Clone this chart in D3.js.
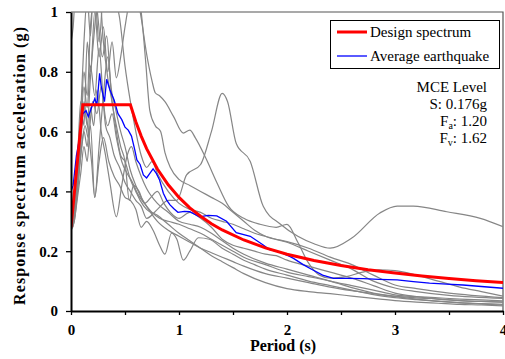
<html lang="en">
<head>
    <meta charset="UTF-8">
    <title>Response spectrum</title>
    <script src="https://cdn.jsdelivr.net/npm/d3@7"></script>
    <style>
        body{
            margin:0;
            background:#fff;
        }
        .axis text{
            font-family:"Liberation Serif","Times New Roman",serif;
            font-weight:bold;
            font-size:15px;
            fill:#000;
        }
        .axis path, .axis line{
            stroke:#000;
        }
        .axis path{
            stroke-width:2px;
        }
        .title{
            font-family:"Liberation Serif","Times New Roman",serif;
            font-weight:bold;
            font-size:16px;
        }
        .legend{
            font-family:"Liberation Serif","Times New Roman",serif;
            font-size:15px;
        }
        .gray{
            fill:none;
            stroke:#868686;
            stroke-width:1.2px;
        }
        .avg{
            fill:none;
            stroke:#0000ff;
            stroke-width:1.3px;
        }
        .design{
            fill:none;
            stroke:#ff0000;
            stroke-width:3px;
        }
    </style>
</head>
<body>
    <svg id="svg"></svg>
    <script>
        var WIDTH = 505;
        var HEIGHT = 359;
        var LEFT = 71, TOP = 12, RIGHT = 503, BOTTOM = 311;

        // design spectrum (period s, Sa g)
        var designT  = [0, 0.11, 0.55, 0.6, 0.65, 0.7, 0.8, 0.9, 1.0, 1.1, 1.2, 1.3, 1.4, 1.6, 1.8, 2.0, 2.25, 2.5, 2.75, 3.0, 3.25, 3.5, 3.75, 4.0];
        var designSa = [0.28, 0.69, 0.69, 0.633, 0.585, 0.543, 0.475, 0.422, 0.38, 0.345, 0.317, 0.292, 0.271, 0.2375, 0.211, 0.19, 0.169, 0.152, 0.138, 0.127, 0.117, 0.109, 0.101, 0.095];

        // average of the records
        var avgT  = [0, 0.02, 0.05, 0.08, 0.11, 0.14, 0.16, 0.19, 0.22, 0.24, 0.265, 0.28, 0.31, 0.33, 0.36, 0.4, 0.435, 0.47, 0.5, 0.53, 0.56, 0.59, 0.61, 0.64, 0.67, 0.7, 0.73, 0.76, 0.79, 0.82, 0.855, 0.886, 0.917, 0.95, 0.99, 1.05, 1.1, 1.19, 1.27, 1.35, 1.44, 1.53, 1.66, 1.78, 1.84, 1.935, 2.03, 2.06, 2.15, 2.24, 2.33, 2.43, 2.55, 2.71, 2.85, 3.02, 3.17, 3.32, 3.48, 3.63, 3.8, 4.0];
        var avgSa = [0.4, 0.42, 0.52, 0.58, 0.66, 0.67, 0.65, 0.68, 0.71, 0.69, 0.795, 0.75, 0.7, 0.775, 0.74, 0.705, 0.66, 0.64, 0.615, 0.605, 0.585, 0.54, 0.505, 0.49, 0.455, 0.445, 0.46, 0.475, 0.46, 0.438, 0.394, 0.371, 0.355, 0.343, 0.33, 0.333, 0.332, 0.315, 0.32, 0.318, 0.3, 0.262, 0.25, 0.221, 0.205, 0.197, 0.182, 0.176, 0.155, 0.137, 0.12, 0.109, 0.109, 0.108, 0.106, 0.104, 0.098, 0.093, 0.09, 0.087, 0.082, 0.076];

        // individual earthquake records [period, Sa]
        var rec1 = [[0,0.28],[0.03,0.33],[0.06,0.42],[0.1,0.55],[0.13,0.62],[0.16,0.58],[0.2,0.7],[0.24,0.66],[0.28,0.75],[0.32,0.62],[0.36,0.58],[0.4,0.52],[0.45,0.48],[0.5,0.43],[0.55,0.4],[0.6,0.37],[0.65,0.35],[0.7,0.31],[0.8,0.34],[0.9,0.37],[0.98,0.37],[1.07,0.455],[1.2,0.49],[1.3,0.6],[1.4,0.728],[1.45,0.7],[1.53,0.56],[1.66,0.5],[1.78,0.35],[1.94,0.29],[2.1,0.25],[2.25,0.225],[2.4,0.21],[2.6,0.244],[2.86,0.328],[3.02,0.351],[3.17,0.351],[3.48,0.332],[3.79,0.31],[4.0,0.282]];
        var rec2 = [[0,0.29],[0.03,0.34],[0.06,0.47],[0.09,0.62],[0.12,0.8],[0.15,0.72],[0.18,0.95],[0.22,1.05],[0.26,0.9],[0.3,1.08],[0.35,1.15],[0.4,1.02],[0.45,1.1],[0.5,1.2],[0.55,1.12],[0.6,1.08],[0.65,0.98],[0.7,0.86],[0.75,0.77],[0.78,0.73],[0.82,0.72],[0.87,0.7],[0.95,0.65],[1.04,0.595],[1.1,0.605],[1.15,0.58],[1.25,0.51],[1.35,0.43],[1.46,0.35],[1.6,0.31],[1.75,0.29],[1.9,0.28],[2.0,0.29],[2.1,0.23],[2.2,0.16],[2.3,0.12],[2.4,0.11],[2.55,0.115],[2.7,0.13],[2.85,0.138],[3.0,0.135],[3.2,0.12],[3.4,0.1],[3.6,0.08],[3.8,0.065],[4.0,0.05]];
        var rec3 = [[0,0.3],[0.03,0.36],[0.06,0.5],[0.09,0.7],[0.12,0.62],[0.15,0.9],[0.18,0.8],[0.22,1.0],[0.26,0.85],[0.3,0.95],[0.34,0.8],[0.38,0.9],[0.42,0.78],[0.46,0.85],[0.5,0.95],[0.55,1.05],[0.6,1.08],[0.65,1.0],[0.69,0.84],[0.73,0.67],[0.78,0.62],[0.83,0.6],[0.87,0.53],[0.92,0.48],[1.0,0.44],[1.1,0.42],[1.2,0.4],[1.3,0.38],[1.4,0.36],[1.5,0.33],[1.6,0.3],[1.7,0.27],[1.8,0.25],[2.0,0.23],[2.2,0.2],[2.4,0.17],[2.6,0.14],[2.8,0.1],[3.0,0.077],[3.2,0.065],[3.5,0.052],[4.0,0.042]];
        var rec4 = [[0,0.28],[0.03,0.31],[0.06,0.4],[0.09,0.52],[0.12,0.6],[0.15,0.55],[0.18,0.68],[0.21,0.62],[0.24,0.74],[0.28,0.6],[0.32,0.52],[0.36,0.43],[0.42,0.315],[0.47,0.42],[0.52,0.52],[0.56,0.55],[0.6,0.5],[0.65,0.45],[0.7,0.41],[0.8,0.36],[0.9,0.33],[1.0,0.3],[1.1,0.29],[1.2,0.28],[1.3,0.26],[1.4,0.235],[1.5,0.21],[1.6,0.19],[1.8,0.16],[2.0,0.14],[2.2,0.12],[2.4,0.1],[2.6,0.085],[2.8,0.07],[3.0,0.054],[3.2,0.048],[3.4,0.044],[3.6,0.04],[3.8,0.037],[4.0,0.034]];
        var rec5 = [[0,0.27],[0.03,0.3],[0.06,0.38],[0.09,0.46],[0.12,0.55],[0.15,0.5],[0.18,0.62],[0.22,0.38],[0.26,0.5],[0.3,0.58],[0.35,0.5],[0.4,0.45],[0.45,0.42],[0.5,0.38],[0.55,0.37],[0.6,0.34],[0.65,0.28],[0.7,0.3],[0.76,0.27],[0.82,0.22],[0.87,0.19],[0.93,0.26],[0.98,0.24],[1.04,0.17],[1.1,0.2],[1.18,0.245],[1.28,0.24],[1.4,0.21],[1.5,0.19],[1.6,0.17],[1.7,0.155],[1.8,0.14],[2.0,0.12],[2.2,0.1],[2.4,0.085],[2.6,0.07],[2.8,0.055],[3.0,0.045],[3.2,0.038],[3.4,0.032],[3.6,0.027],[3.8,0.023],[4.0,0.02]];
        var rec6 = [[0,0.9],[0.02,0.95],[0.05,1.15],[0.1,1.3],[0.15,1.2],[0.2,1.4],[0.25,1.3],[0.3,1.2],[0.35,1.1],[0.4,1.05],[0.45,0.98],[0.5,0.82],[0.55,0.7],[0.6,0.6],[0.65,0.52],[0.7,0.48],[0.75,0.5],[0.8,0.46],[0.9,0.4],[1.0,0.36],[1.1,0.34],[1.2,0.33],[1.3,0.31],[1.4,0.3],[1.5,0.29],[1.6,0.275],[1.7,0.26],[1.8,0.25],[1.9,0.24],[2.0,0.232],[2.2,0.21],[2.4,0.18],[2.6,0.155],[2.8,0.12],[3.0,0.087],[3.2,0.075],[3.5,0.06],[4.0,0.045]];
        var rec7 = [[0,0.28],[0.03,0.32],[0.06,0.44],[0.09,0.6],[0.12,0.75],[0.15,0.68],[0.18,0.82],[0.22,0.72],[0.26,0.88],[0.3,0.7],[0.34,0.62],[0.38,0.66],[0.42,0.58],[0.47,0.5],[0.52,0.46],[0.57,0.43],[0.62,0.39],[0.68,0.36],[0.75,0.33],[0.82,0.31],[0.9,0.3],[1.0,0.29],[1.1,0.275],[1.2,0.26],[1.3,0.24],[1.4,0.22],[1.5,0.2],[1.6,0.18],[1.8,0.155],[2.0,0.13],[2.2,0.115],[2.4,0.1],[2.6,0.078],[2.8,0.06],[3.0,0.05],[3.2,0.044],[3.4,0.04],[3.6,0.035],[3.8,0.032],[4.0,0.03]];
        var rec8 = [[0,0.3],[0.03,0.34],[0.06,0.48],[0.09,0.66],[0.12,0.9],[0.15,1.05],[0.18,0.92],[0.21,1.1],[0.25,0.98],[0.29,0.85],[0.33,0.92],[0.37,0.75],[0.41,0.68],[0.46,0.6],[0.5,0.55],[0.55,0.47],[0.6,0.42],[0.65,0.38],[0.7,0.35],[0.8,0.3],[0.9,0.27],[1.0,0.25],[1.1,0.23],[1.2,0.21],[1.3,0.195],[1.4,0.18],[1.5,0.165],[1.6,0.15],[1.8,0.125],[2.0,0.11],[2.2,0.095],[2.4,0.08],[2.6,0.068],[2.8,0.058],[3.0,0.048],[3.2,0.04],[3.4,0.033],[3.6,0.028],[3.8,0.025],[4.0,0.022]];
        var rec9 = [[0,0.27],[0.03,0.3],[0.06,0.4],[0.09,0.55],[0.12,0.7],[0.15,0.62],[0.18,0.78],[0.22,0.95],[0.26,1.08],[0.3,0.9],[0.34,0.78],[0.38,0.7],[0.42,0.6],[0.46,0.52],[0.5,0.5],[0.55,0.44],[0.6,0.4],[0.64,0.37],[0.7,0.34],[0.8,0.32],[0.9,0.29],[1.0,0.26],[1.1,0.235],[1.2,0.21],[1.3,0.185],[1.4,0.165],[1.5,0.145],[1.6,0.125],[1.8,0.095],[2.0,0.075],[2.2,0.065],[2.4,0.058],[2.6,0.05],[2.8,0.042],[3.0,0.035],[3.2,0.03],[3.4,0.026],[3.6,0.022],[3.8,0.02],[4.0,0.017]];
        var rec10 = [[0,0.29],[0.03,0.33],[0.06,0.46],[0.09,0.58],[0.12,0.68],[0.16,0.6],[0.19,0.5],[0.22,0.38],[0.26,0.55],[0.3,0.72],[0.34,0.85],[0.38,0.7],[0.42,0.62],[0.46,0.55],[0.5,0.5],[0.54,0.37],[0.58,0.42],[0.63,0.4],[0.68,0.36],[0.74,0.38],[0.8,0.4],[0.86,0.36],[0.92,0.33],[1.0,0.31],[1.1,0.33],[1.2,0.31],[1.3,0.28],[1.4,0.24],[1.5,0.22],[1.6,0.21],[1.7,0.2],[1.8,0.19],[1.9,0.185],[2.0,0.17],[2.2,0.15],[2.4,0.13],[2.6,0.11],[2.8,0.085],[3.0,0.06],[3.2,0.048],[3.4,0.04],[3.6,0.035],[3.8,0.032],[4.0,0.03]];
        var records = [rec1, rec2, rec3, rec4, rec5, rec6, rec7, rec8, rec9, rec10];

        var xTicks = [0, 0.5, 1, 1.5, 2, 2.5, 3, 3.5, 4];
        var yTicks = [0, 0.2, 0.4, 0.6, 0.8, 1];
        var yTickLabels = ["0", "0.2", "0.4", "0.6", "0.8", "1"];

        var svg = d3.select("#svg")
                    .attr("width", WIDTH)
                    .attr("height", HEIGHT);

        var xScale = d3.scaleLinear().domain([0, 4]).range([LEFT, RIGHT]);
        var yScale = d3.scaleLinear().domain([0, 1]).range([BOTTOM, TOP]);

        svg.append("clipPath")
           .attr("id", "plotArea")
           .append("rect")
           .attr("x", LEFT)
           .attr("y", TOP)
           .attr("width", RIGHT - LEFT)
           .attr("height", BOTTOM - TOP);

        // frame top / right
        svg.append("path")
           .attr("d", "M" + LEFT + "," + TOP + "H" + RIGHT + "V" + BOTTOM)
           .attr("fill", "none")
           .attr("stroke", "#555")
           .attr("stroke-width", 1.2);

        var line = d3.line()
                     .x(function(d){ return xScale(d[0]); })
                     .y(function(d){ return yScale(d[1]); });

        var smooth = d3.line()
                       .curve(d3.curveMonotoneX)
                       .x(function(d){ return xScale(d[0]); })
                       .y(function(d){ return yScale(d[1]); });

        var plot = svg.append("g").attr("clip-path", "url(#plotArea)");

        plot.selectAll(".gray")
            .data(records)
            .enter()
            .append("path")
            .attr("class", "gray")
            .attr("d", smooth);

        var avg = avgT.map(function(t, i){ return [t, avgSa[i]]; });
        var design = designT.map(function(t, i){ return [t, designSa[i]]; });

        plot.append("path")
            .datum(avg)
            .attr("class", "avg")
            .attr("d", line);

        plot.append("path")
            .datum(design)
            .attr("class", "design")
            .attr("d", line);

        // axes
        var xAxis = d3.axisBottom(xScale)
                      .tickValues(xTicks)
                      .tickSizeInner(4)
                      .tickSizeOuter(0)
                      .tickPadding(9)
                      .tickFormat(function(d){ return d % 1 === 0 ? d : ""; });

        var yAxis = d3.axisLeft(yScale)
                      .tickValues(yTicks)
                      .tickSizeInner(5)
                      .tickSizeOuter(0)
                      .tickPadding(8)
                      .tickFormat(function(d, i){ return yTickLabels[i]; });

        svg.append("g")
           .attr("class", "x axis")
           .attr("transform", "translate(0," + BOTTOM + ")")
           .call(xAxis);

        svg.append("g")
           .attr("class", "y axis")
           .attr("transform", "translate(" + LEFT + ",0)")
           .call(yAxis);

        svg.selectAll(".axis .tick line").attr("stroke-width", 1.3);

        svg.append("text")
           .attr("class", "title")
           .attr("x", 283)
           .attr("y", 351)
           .attr("text-anchor", "middle")
           .text("Period (s)");

        svg.append("text")
           .attr("class", "title")
           .attr("transform", "translate(25,166) rotate(-90)")
           .attr("text-anchor", "middle")
           .attr("textLength", 278)
           .attr("lengthAdjust", "spacing")
           .text("Response spectrum acceleration (g)");

        // legend
        var legend = svg.append("g").attr("class", "legend");
        legend.append("rect")
              .attr("x", 330.5).attr("y", 20.5)
              .attr("width", 169).attr("height", 48)
              .attr("fill", "#fff")
              .attr("stroke", "#000");

        var items = [
            {name: "Design spectrum", cls: "design", y: 32},
            {name: "Average earthquake", cls: "avg", y: 56}
        ];
        items.forEach(function(it){
            legend.append("line")
                  .attr("class", it.cls)
                  .attr("x1", 337).attr("x2", 367)
                  .attr("y1", it.y).attr("y2", it.y);
            legend.append("text")
                  .attr("x", 370)
                  .attr("y", it.y + 5)
                  .text(it.name);
        });

        var notes = legend.append("g").attr("text-anchor", "end");
        notes.append("text").attr("x", 487).attr("y", 92).text("MCE Level");
        notes.append("text").attr("x", 487).attr("y", 109).text("S: 0.176g");
        var fa = notes.append("text").attr("x", 487).attr("y", 126);
        fa.append("tspan").text("F");
        fa.append("tspan").attr("font-size", "10px").attr("dy", 3).text("a");
        fa.append("tspan").attr("dy", -3).text(": 1.20");
        var fv = notes.append("text").attr("x", 487).attr("y", 143);
        fv.append("tspan").text("F");
        fv.append("tspan").attr("font-size", "10px").attr("dy", 3).text("v");
        fv.append("tspan").attr("dy", -3).text(": 1.62");
    </script>
</body>
</html>
